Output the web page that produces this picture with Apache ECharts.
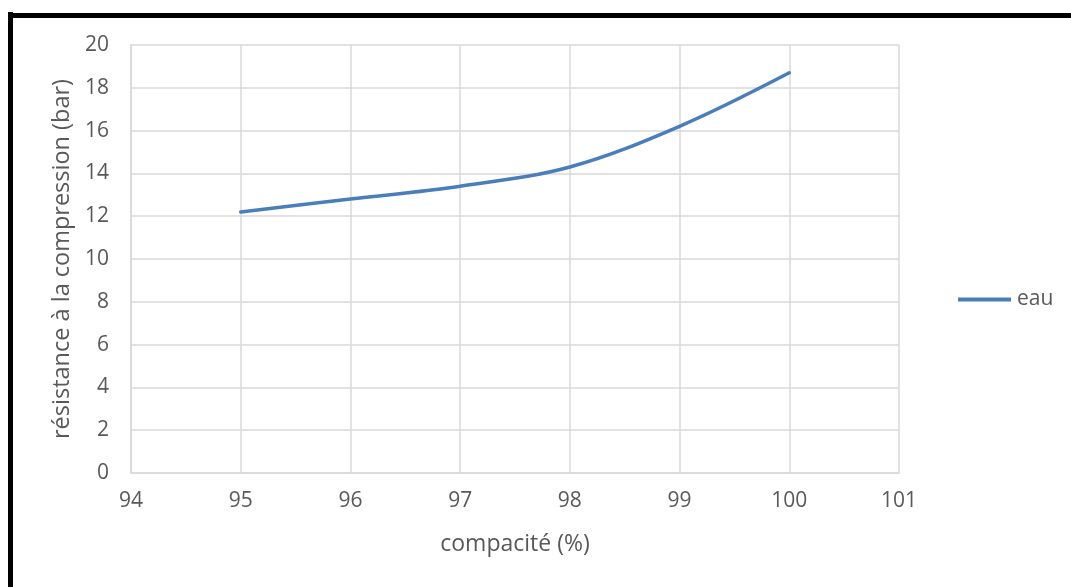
<!DOCTYPE html>
<html>
<head>
<meta charset="utf-8">
<script src="https://cdn.jsdelivr.net/npm/echarts@6/dist/echarts.min.js"></script>
<style>
  html, body { margin: 0; padding: 0; background: #fff; }
  #chart { width: 1071px; height: 587px; }
</style>
</head>
<body>
<div id="chart"></div>
<script>
// Compressive strength as a function of compactness
const compacite = [95, 96, 97, 98, 99, 100];
const resistance = [12.2, 12.8, 13.4, 14.3, 16.2, 18.7];
const seriesName = 'eau';
const xTitle = 'compacité (%)';
const yTitle = 'résistance à la compression (bar)';

const textColor = '#595959';
const gridColor = '#d9d9d9';
const font = '"Open Sans", "Noto Sans", sans-serif';

const chart = echarts.init(document.getElementById('chart'), null, { renderer: 'canvas' });

chart.setOption({
  animation: false,
  backgroundColor: '#fff',
  grid: { left: 131, top: 45, right: 172, bottom: 114, containLabel: false },
  legend: {
    left: 958,
    top: 289,
    orient: 'vertical',
    padding: 0,
    itemWidth: 53,
    itemHeight: 4,
    itemGap: 5,
    icon: 'rect',
    textStyle: { color: textColor, fontSize: 21, fontFamily: font, padding: [0, 0, 0, 1] },
    data: [seriesName]
  },
  xAxis: {
    type: 'value',
    min: 94,
    max: 101,
    interval: 1,
    name: xTitle,
    nameLocation: 'middle',
    nameGap: 60,
    nameTextStyle: { color: textColor, fontSize: 23, fontFamily: font },
    axisLine: { show: true, lineStyle: { color: gridColor, width: 1.5 } },
    axisTick: { show: false },
    axisLabel: { color: textColor, fontSize: 21, fontFamily: font, margin: 18 },
    splitLine: { show: true, lineStyle: { color: gridColor, width: 1.5 } }
  },
  yAxis: {
    type: 'value',
    min: 0,
    max: 20,
    interval: 2,
    name: yTitle,
    nameLocation: 'middle',
    nameGap: 57,
    nameTextStyle: { color: textColor, fontSize: 23.5, fontFamily: font },
    axisLine: { show: true, lineStyle: { color: gridColor, width: 1.5 } },
    axisTick: { show: false },
    axisLabel: { color: textColor, fontSize: 21, fontFamily: font, margin: 22 },
    splitLine: { show: true, lineStyle: { color: gridColor, width: 1.5 } }
  },
  series: [{
    name: seriesName,
    type: 'line',
    data: compacite.map((x, i) => [x, resistance[i]]),
    smooth: 0.35,
    showSymbol: false,
    symbol: 'none',
    lineStyle: { color: '#4a7ebb', width: 3.5, cap: 'round' },
    itemStyle: { color: '#4a7ebb' }
  }],
  graphic: [
    { type: 'rect', shape: { x: 8, y: 12, width: 5, height: 587 }, style: { fill: '#000' }, silent: true },
    { type: 'rect', shape: { x: 8, y: 13, width: 1063, height: 5 }, style: { fill: '#000' }, silent: true }
  ]
});
</script>
</body>
</html>
